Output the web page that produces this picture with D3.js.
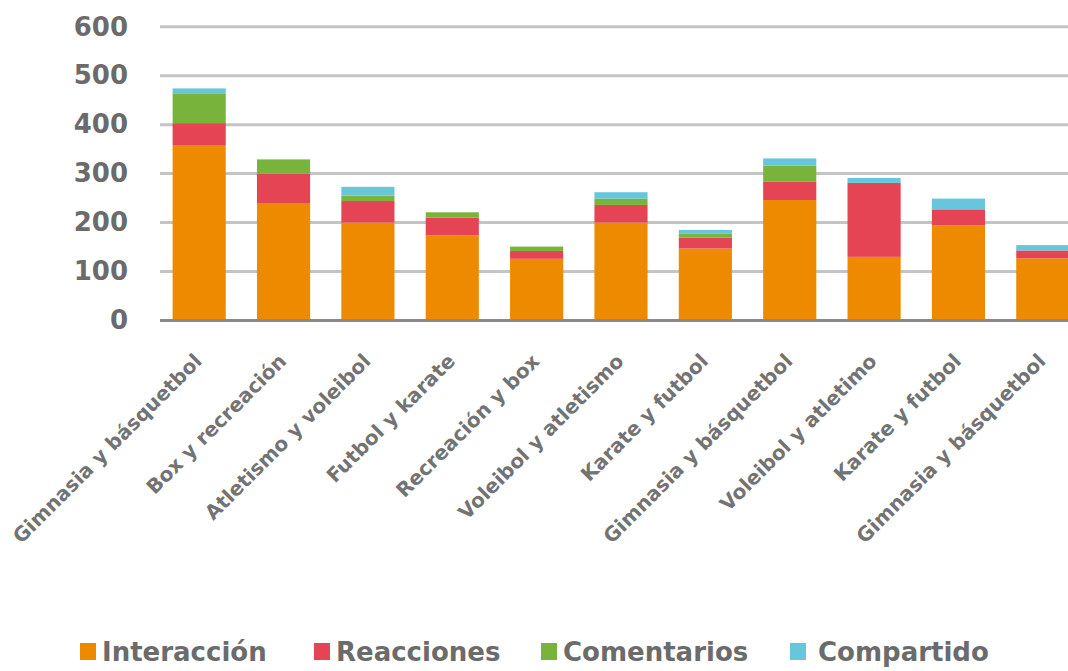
<!DOCTYPE html>
<html>
<head>
<meta charset="utf-8">
<script src="https://cdn.jsdelivr.net/npm/d3@7"></script>
<style>
  body { margin: 0; background: #ffffff; }
  #chart { width: 1068px; height: 671px; overflow: hidden; }
</style>
</head>
<body>
<div id="chart"></div>
<script>
const categories = [
    'Gimnasia y básquetbol',
    'Box y recreación',
    'Atletismo y voleibol',
    'Futbol y karate',
    'Recreación y box',
    'Voleibol y atletismo',
    'Karate y futbol',
    'Gimnasia y básquetbol ',
    'Voleibol y atletimo',
    'Karate y futbol ',
    'Gimnasia y básquetbol  '
];

const seriesNames = ['Interacción', 'Reacciones', 'Comentarios', 'Compartido'];
const seriesColors = ['#ee8a00', '#e54455', '#78b43c', '#67c6dc'];

const interaccion = [357, 240, 200, 174, 126, 200, 147, 246, 130, 194, 127];
const reacciones  = [46, 60, 44, 36, 16, 36, 22, 38, 151, 33, 16];
const comentarios = [61, 29, 11, 11, 9, 13, 8, 32, 0, 0, 0];
const compartido  = [10, 0, 18, 0, 0, 13, 8, 15, 10, 22, 11];

const yTicks = [0, 100, 200, 300, 400, 500, 600];

const width = 1068, height = 671;

const rows = categories.map((c, i) => ({
    cat: c,
    'Interacción': interaccion[i],
    'Reacciones': reacciones[i],
    'Comentarios': comentarios[i],
    'Compartido': compartido[i]
}));

const svg = d3.select('#chart')
    .append('svg')
    .attr('width', width)
    .attr('height', height)
    .style('background-color', '#ffffff');

const x = d3.scaleBand()
    .domain(categories)
    .range([157, 1085])
    .paddingInner(0.37)
    .paddingOuter(0.185);

const y = d3.scaleLinear()
    .domain([0, 600])
    .range([320.5, 26.7]);

// gridlines
svg.append('g')
    .selectAll('line')
    .data(yTicks.filter(t => t > 0))
    .enter()
    .append('line')
    .attr('x1', 160)
    .attr('x2', width)
    .attr('y1', d => y(d))
    .attr('y2', d => y(d))
    .attr('stroke', '#c4c4c4')
    .attr('stroke-width', 3);

// y axis labels
const yAxis = d3.axisLeft(y).tickValues(yTicks).tickSize(0).tickPadding(0);
const yg = svg.append('g')
    .attr('transform', 'translate(128,0)')
    .call(yAxis);
yg.select('.domain').remove();
yg.selectAll('text')
    .attr('fill', '#6b6b6b')
    .style('font-family', '"DejaVu Sans", sans-serif')
    .style('font-weight', 'bold')
    .style('font-size', '26px');

// stacked bars
const stack = d3.stack().keys(seriesNames);
const stacked = stack(rows);

svg.append('g')
    .selectAll('g')
    .data(stacked)
    .enter()
    .append('g')
    .attr('fill', (d, i) => seriesColors[i])
    .selectAll('rect')
    .data(d => d)
    .enter()
    .append('rect')
    .attr('x', d => x(d.data.cat))
    .attr('width', x.bandwidth())
    .attr('y', d => y(d[1]))
    .attr('height', d => Math.max(0, y(d[0]) - y(d[1])));

// baseline
svg.append('line')
    .attr('x1', 160)
    .attr('x2', width)
    .attr('y1', y(0))
    .attr('y2', y(0))
    .attr('stroke', '#8a8a88')
    .attr('stroke-width', 3);

// x labels
const xAxis = d3.axisBottom(x).tickSize(0).tickPadding(0);
const xg = svg.append('g')
    .attr('transform', `translate(0,${y(0)})`)
    .call(xAxis);
xg.select('.domain').remove();
xg.selectAll('text')
    .text(d => d.trim())
    .attr('fill', '#737373')
    .style('font-family', '"DejaVu Sans", sans-serif')
    .style('font-weight', 'bold')
    .style('font-size', '20px')
    .attr('text-anchor', 'end')
    .attr('dy', 0)
    .attr('transform', 'translate(4,42) rotate(-45)');

// legend
const legend = svg.append('g')
    .attr('transform', 'translate(0,651)');
const legendX = [80, 314, 541, 790];
seriesNames.forEach((name, i) => {
    const g = legend.append('g').attr('transform', `translate(${legendX[i]},0)`);
    g.append('rect')
        .attr('x', 0)
        .attr('y', -8)
        .attr('width', 16)
        .attr('height', 17)
        .attr('fill', seriesColors[i]);
    g.append('text')
        .attr('x', i === 3 ? 28 : 22)
        .attr('y', 10)
        .attr('fill', '#6b6b6b')
        .style('font-family', '"DejaVu Sans", sans-serif')
        .style('font-weight', 'bold')
        .style('font-size', '26px')
        .text(name);
});
</script>
</body>
</html>
